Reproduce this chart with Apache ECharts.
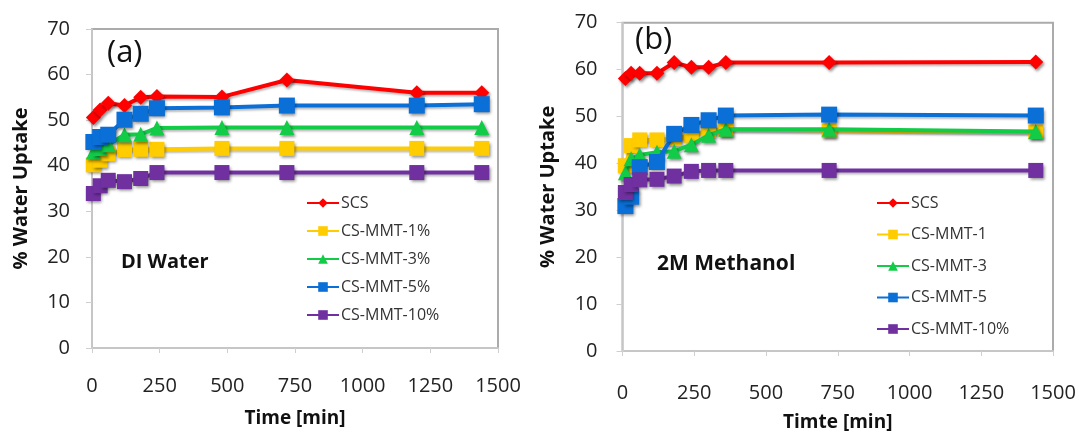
<!DOCTYPE html>
<html><head><meta charset="utf-8">
<script src="https://cdn.jsdelivr.net/npm/echarts@6/dist/echarts.min.js"></script>
<style>html,body{margin:0;padding:0;background:#fff}#c{width:1079px;height:434px}</style>
</head><body><div id="c"></div>
<script>
// Panel (a): DI Water
const timesA = [5, 30, 60, 120, 180, 240, 480, 720, 1200, 1440];
const scsA   = [50.6, 52.2, 53.7, 53.2, 55.0, 55.2, 55.1, 58.8, 56.0, 56.0];
const mmt1A  = [40.2, 41.2, 42.6, 43.5, 43.6, 43.6, 43.8, 43.8, 43.8, 43.8];
const mmt3A  = [43.0, 43.8, 44.6, 46.8, 46.9, 48.3, 48.4, 48.4, 48.4, 48.4];
const mmt5A  = [45.2, 46.3, 46.8, 50.1, 51.4, 52.6, 52.8, 53.2, 53.2, 53.5];
const mmt10A = [33.9, 35.6, 36.8, 36.5, 37.2, 38.5, 38.5, 38.5, 38.5, 38.5];
const namesA = ['SCS', 'CS-MMT-1%', 'CS-MMT-3%', 'CS-MMT-5%', 'CS-MMT-10%'];

// Panel (b): 2M Methanol
const timesB = [10, 30, 60, 120, 180, 240, 300, 360, 720, 1440];
const scsB   = [58.1, 59.2, 59.2, 59.2, 61.5, 60.5, 60.5, 61.5, 61.5, 61.6];
const mmt1B  = [39.5, 43.8, 45.0, 45.0, 45.3, 46.0, 47.0, 47.3, 47.0, 46.7];
const mmt3B  = [38.0, 41.0, 41.8, 42.4, 42.6, 44.0, 46.0, 47.3, 47.3, 46.8];
const mmt5B  = [30.9, 32.9, 39.2, 40.3, 46.3, 48.2, 49.2, 50.2, 50.4, 50.2];
const mmt10B = [33.8, 35.5, 36.5, 36.6, 37.3, 38.3, 38.5, 38.5, 38.5, 38.5];
const namesB = ['SCS', 'CS-MMT-1', 'CS-MMT-3', 'CS-MMT-5', 'CS-MMT-10%'];

const xTicks = [0, 250, 500, 750, 1000, 1250, 1500];
const yTicks = [0, 10, 20, 30, 40, 50, 60, 70];

const colors  = ['#ff0000', '#ffcc00', '#12cc48', '#0a6fd6', '#7030a0'];
const symbols = ['diamond', 'rect', 'triangle', 'rect', 'rect'];
const sizes   = [15, 15, 15, 16, 15];

const FONT = '"Open Sans", sans-serif';
const chart = echarts.init(document.getElementById('c'));

function pairs(t, v) { return t.map((x, i) => [x, v[i]]); }
function mkSeries(names, times, vals, idx) {
  return vals.map((v, i) => ({
    name: names[i], type: 'line', xAxisIndex: idx, yAxisIndex: idx,
    data: pairs(times, v), symbol: symbols[i], symbolSize: sizes[i],
    lineStyle: { width: 4, color: colors[i], shadowColor: 'rgba(0,0,0,0.25)', shadowBlur: 2, shadowOffsetX: 1, shadowOffsetY: 2 },
    itemStyle: { color: colors[i], shadowColor: 'rgba(0,0,0,0.45)', shadowBlur: 3, shadowOffsetX: 1.5, shadowOffsetY: 2 },
    emphasis: { disabled: true }, animation: false, z: 2 + i
  }));
}
function xAxis(idx, name, margin, gap) {
  return {
    type: 'value', gridIndex: idx, min: 0, max: 1500, interval: 250,
    name: name, nameLocation: 'middle', nameGap: gap,
    nameTextStyle: { fontFamily: FONT, fontSize: 19, fontWeight: 'bold', color: '#111' },
    axisLine: { show: true, lineStyle: { color: '#cfcfcf', width: 1.5 } },
    axisTick: { show: true, length: 5, lineStyle: { color: '#cfcfcf' } },
    splitLine: { show: false },
    axisLabel: { fontFamily: FONT, fontSize: 20, color: '#222', margin: margin,
      formatter: v => xTicks.includes(v) ? String(v) : '' }
  };
}
function yAxis(idx, gap, margin) {
  return {
    type: 'value', gridIndex: idx, min: 0, max: 70, interval: 10,
    name: '% Water Uptake', nameLocation: 'middle', nameGap: gap, nameRotate: 90,
    nameTextStyle: { fontFamily: FONT, fontSize: 20, fontWeight: 'bold', color: '#111' },
    axisLine: { show: true, lineStyle: { color: '#cfcfcf', width: 1.5 } },
    axisTick: { show: true, length: 6, lineStyle: { color: '#cfcfcf' } },
    splitLine: { show: false },
    axisLabel: { fontFamily: FONT, fontSize: 20, color: '#222', margin: margin,
      formatter: v => yTicks.includes(v) ? String(v) : '' }
  };
}
function legend(names, left, top, gap) {
  return {
    data: names, orient: 'vertical', left: left, top: top, itemGap: gap,
    itemWidth: 32, itemHeight: 12, selectedMode: false,
    textStyle: { fontFamily: FONT, fontSize: 16, color: '#333', padding: [0, 0, 0, -3] }
  };
}

chart.setOption({
  backgroundColor: '#fff',
  animation: false,
  grid: [
    { left: 92, top: 29, width: 406, height: 319, outerBoundsMode: 'none', containLabel: false, show: true, borderColor: '#ababab', borderWidth: 2, backgroundColor: 'transparent' },
    { left: 622.5, top: 22.7, width: 430.5, height: 328.3, outerBoundsMode: 'none', containLabel: false, show: true, borderColor: '#ababab', borderWidth: 2, backgroundColor: 'transparent' }
  ],
  xAxis: [xAxis(0, 'Time [min]', 28, 61), xAxis(1, 'Timte [min]', 32, 62)],
  yAxis: [yAxis(0, 61, 22), yAxis(1, 64, 25)],
  legend: [legend(namesA, 301, 190, 12), legend(namesB, 871, 190, 15.5)],
  series: mkSeries(namesA, timesA, [scsA, mmt1A, mmt3A, mmt5A, mmt10A], 0)
    .concat(mkSeries(namesB, timesB, [scsB, mmt1B, mmt3B, mmt5B, mmt10B], 1)),
  graphic: [
    { type: 'text', left: 107, top: 38, style: { text: '(a)', font: '31px "Open Sans", sans-serif', fill: '#111' } },
    { type: 'text', left: 635, top: 25, style: { text: '(b)', font: '31px "Open Sans", sans-serif', fill: '#111' } },
    { type: 'text', left: 121, top: 252, style: { text: 'DI Water', font: 'bold 20px "Open Sans", sans-serif', fill: '#111' } },
    { type: 'text', left: 657, top: 254, style: { text: '2M Methanol', font: 'bold 21px "Open Sans", sans-serif', fill: '#111' } }
  ]
});
</script></body></html>
